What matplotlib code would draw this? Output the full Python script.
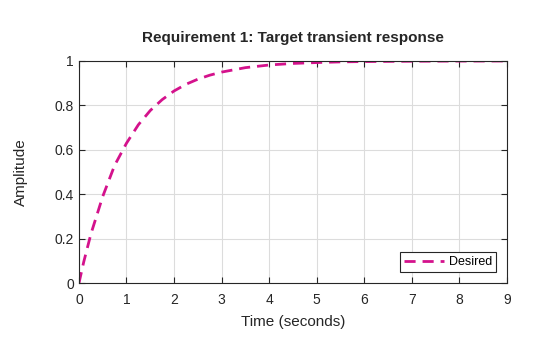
import numpy as np
import matplotlib.pyplot as plt

plt.rcParams['font.family'] = ['Liberation Sans', 'DejaVu Sans']

# values
time = [0, 0.1, 0.25, 0.5, 0.75, 1.0, 1.25, 1.5, 1.75, 2.0, 2.25, 2.5, 2.75, 3.0,
        3.5, 4.0, 4.5, 5.0, 5.5, 6.0, 7.0, 8.0, 9.0]
amplitude = [0, 0.095, 0.22, 0.39, 0.53, 0.63, 0.713, 0.777, 0.826, 0.865, 0.895,
             0.918, 0.936, 0.95, 0.97, 0.982, 0.989, 0.993, 0.996, 0.9975, 0.999,
             0.9997, 1.0]
xticks = [0, 1, 2, 3, 4, 5, 6, 7, 8, 9]
yticks = [0, 0.2, 0.4, 0.6, 0.8, 1]
yticklabels = ['0', '0.2', '0.4', '0.6', '0.8', '1']

fig = plt.figure(figsize=(5.6, 3.37), dpi=100)
ax = fig.add_axes([0.141, 0.160, 0.764, 0.659])

ax.plot(time, amplitude, color='#D4128C', linestyle=(0, (4, 2.5)), linewidth=2,
        label='Desired')

ax.set_xlim(0, 9)
ax.set_ylim(0, 1)
ax.set_xticks(xticks)
ax.set_yticks(yticks)
ax.set_yticklabels(yticklabels)
ax.grid(True, color='#dcdcdc', linewidth=0.8)
ax.set_axisbelow(True)
ax.tick_params(direction='in', top=True, right=True, length=4, labelsize=10,
               colors='#262626', width=0.8)
ax.tick_params(axis='x', pad=7)
for s in ax.spines.values():
    s.set_color('#262626')
    s.set_linewidth(0.8)

ax.set_xlabel('Time (seconds)', fontsize=11, color='#262626', labelpad=6)
ax.set_ylabel('Amplitude', fontsize=11, color='#262626', labelpad=19)
ax.set_title('Requirement 1: Target transient response', fontsize=11,
             fontweight='bold', color='#262626', pad=14)

leg = ax.legend(loc='lower right', fontsize=9, frameon=True, fancybox=False,
                handlelength=3.2, borderpad=0.3, handletextpad=0.4,
                borderaxespad=0.9)
leg.get_frame().set_edgecolor('#262626')
leg.get_frame().set_linewidth(0.8)
leg.get_frame().set_alpha(1)

fig.savefig('out.png', dpi=100)
